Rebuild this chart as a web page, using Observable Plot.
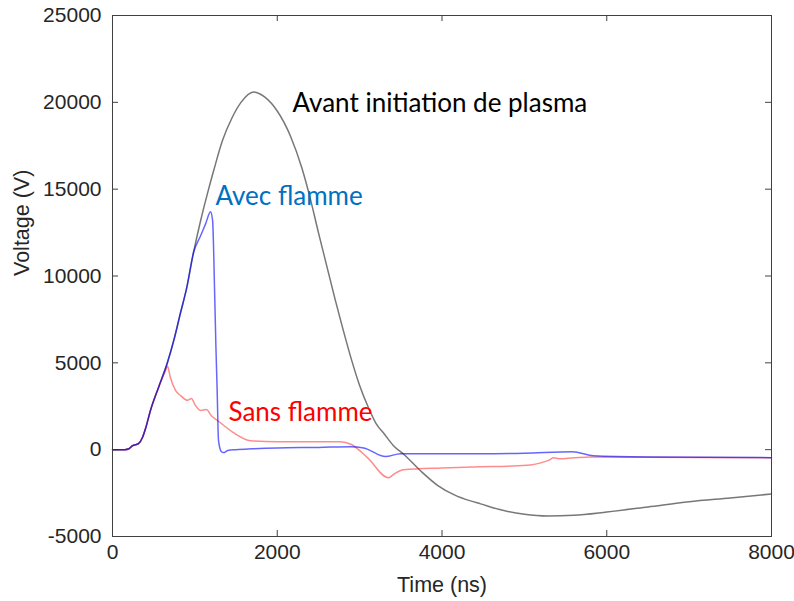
<!DOCTYPE html>
<html>
<head>
<meta charset="utf-8">
<script src="https://cdn.jsdelivr.net/npm/d3@7"></script>
<script src="https://cdn.jsdelivr.net/npm/@observablehq/plot@0.6"></script>
<style>
  html, body { margin: 0; padding: 0; background: #fff; }
  #chart { width: 794px; height: 601px; }
  #chart svg text { font-family: "Liberation Sans", Arial, sans-serif; }
  #chart svg g.anno text { font-family: Lato, "Open Sans", sans-serif; }
</style>
</head>
<body>
<div id="chart"></div>
<script>
// Gray: before plasma initiation
const avantTime = [0,150,200,243,316,364,400,461,560,668,750,825,900,983,1068,1150,1230,1335,1450,1560,1712,1850,2000,2161,2300,2404,2500,2600,2700,2800,2900,3000,3100,3200,3300,3411,3532,3739,3945,4150,4346,4468,4700,5000,5280,5600,6000,6500,7000,7500,8000];
const avantVolt = [0,0,50,230,350,700,1200,2260,3600,5030,6400,7870,9300,11340,13150,14700,16100,17800,19100,20000,20600,20300,19500,18050,16200,14400,12500,10600,8700,6900,5200,3700,2500,1500,900,230,-250,-1215,-2050,-2600,-2950,-3120,-3450,-3720,-3820,-3780,-3590,-3300,-3000,-2780,-2550];

// Blue: with flame
const avecTime = [0,150,200,243,316,364,400,461,560,668,750,825,900,983,1068,1130,1190,1215,1240,1255,1270,1287,1320,1347,1400,1500,1700,2000,2500,2890,3050,3314,3496,4000,4468,5000,5585,5840,6500,8000];
const avecVolt = [0,0,50,230,350,700,1200,2260,3600,5030,6400,7870,9300,11340,12300,13000,13700,13200,9000,6000,3500,520,-100,-170,-50,0,50,100,130,170,100,-400,-230,-230,-230,-200,-115,-350,-420,-460];

// Red: without flame
const sansTime = [0,150,200,243,316,364,400,461,560,640,668,700,765,830,910,959,1000,1068,1141,1200,1275,1469,1675,2000,2500,2768,2900,3095,3350,3420,3532,4000,4468,4800,5074,5200,5300,5354,5420,5600,5800,6500,8000];
const sansVolt = [0,0,50,230,350,700,1200,2260,3600,4500,4800,4200,3410,3100,2840,2950,2600,2260,2310,1950,1680,980,520,460,460,460,300,-460,-1620,-1400,-1160,-1050,-980,-950,-880,-760,-600,-470,-520,-470,-420,-440,-460];

const xTicks = [0, 2000, 4000, 6000, 8000];
const yTicks = [-5000, 0, 5000, 10000, 15000, 20000, 25000];

const annoText = ["Avant initiation de plasma", "Avec flamme", "Sans flamme"];
const annoTime = [2185, 1250, 1408];
const annoVolt = [19900, 14580, 2140];
const annoColor = ["#000000", "#0070C0", "#FF0000"];

const toRows = (t, v) => t.map((x, i) => ({t: x, v: v[i]}));
const avant = toRows(avantTime, avantVolt);
const avec = toRows(avecTime, avecVolt);
const sans = toRows(sansTime, sansVolt);
const annos = annoText.map((s, i) => ({s, t: annoTime[i], v: annoVolt[i], c: annoColor[i]}));

const W = 794, H = 601;
const mL = 112, mR = 23, mT = 15, mB = 65;
const pw = W - mL - mR, ph = H - mT - mB;
const tick = 6;
const sansFont = "'Liberation Sans', Arial, sans-serif";

const chart = Plot.plot({
  width: W,
  height: H,
  marginLeft: mL,
  marginRight: mR,
  marginTop: mT,
  marginBottom: mB,
  style: "font-family: 'Liberation Sans', Arial, sans-serif; font-size: 21px; color: #262626; background: #fff;",
  x: { domain: [0, 8000] },
  y: { domain: [-5000, 25000] },
  marks: [
    Plot.tickY(yTicks, { y: d => d, insetRight: pw - tick, stroke: "#404040" }),
    Plot.tickY(yTicks, { y: d => d, insetLeft: pw - tick, stroke: "#404040" }),
    Plot.tickX(xTicks, { x: d => d, insetTop: ph - tick, stroke: "#404040" }),
    Plot.tickX(xTicks, { x: d => d, insetBottom: ph - tick, stroke: "#404040" }),
    Plot.axisY({ ticks: yTicks, tickSize: 0, tickPadding: 11, label: null, tickFormat: d => String(d), fontSize: 21, fontFamily: sansFont }),
    Plot.axisX({ ticks: xTicks, tickSize: 0, tickPadding: 8, label: null, tickFormat: d => String(d), fontSize: 21, fontFamily: sansFont }),
    Plot.text(["Time (ns)"], { frameAnchor: "bottom", dy: 55, fontSize: 21.5, fontFamily: sansFont, fill: "#262626" }),
    Plot.text(["Voltage (V)"], { frameAnchor: "left", rotate: -90, dx: -90, fontSize: 21.5, fontFamily: sansFont, fill: "#262626" }),
    Plot.line(avant, { x: "t", y: "v", stroke: "#555555", strokeOpacity: 0.8, strokeWidth: 1.5, curve: "monotone-x" }),
    Plot.line(sans, { x: "t", y: "v", stroke: "#ff0000", strokeOpacity: 0.45, strokeWidth: 1.5, curve: "monotone-x" }),
    Plot.line(avec, { x: "t", y: "v", stroke: "#0000ff", strokeOpacity: 0.6, strokeWidth: 1.5, curve: "monotone-x" }),
    Plot.text(annos, { x: "t", y: "v", text: "s", fill: "c", textAnchor: "start", fontSize: 26, fontFamily: "Lato, 'Open Sans', sans-serif", className: "anno" }),
    Plot.frame({ stroke: "#404040" })
  ]
});
document.getElementById("chart").appendChild(chart);
</script>
</body>
</html>
